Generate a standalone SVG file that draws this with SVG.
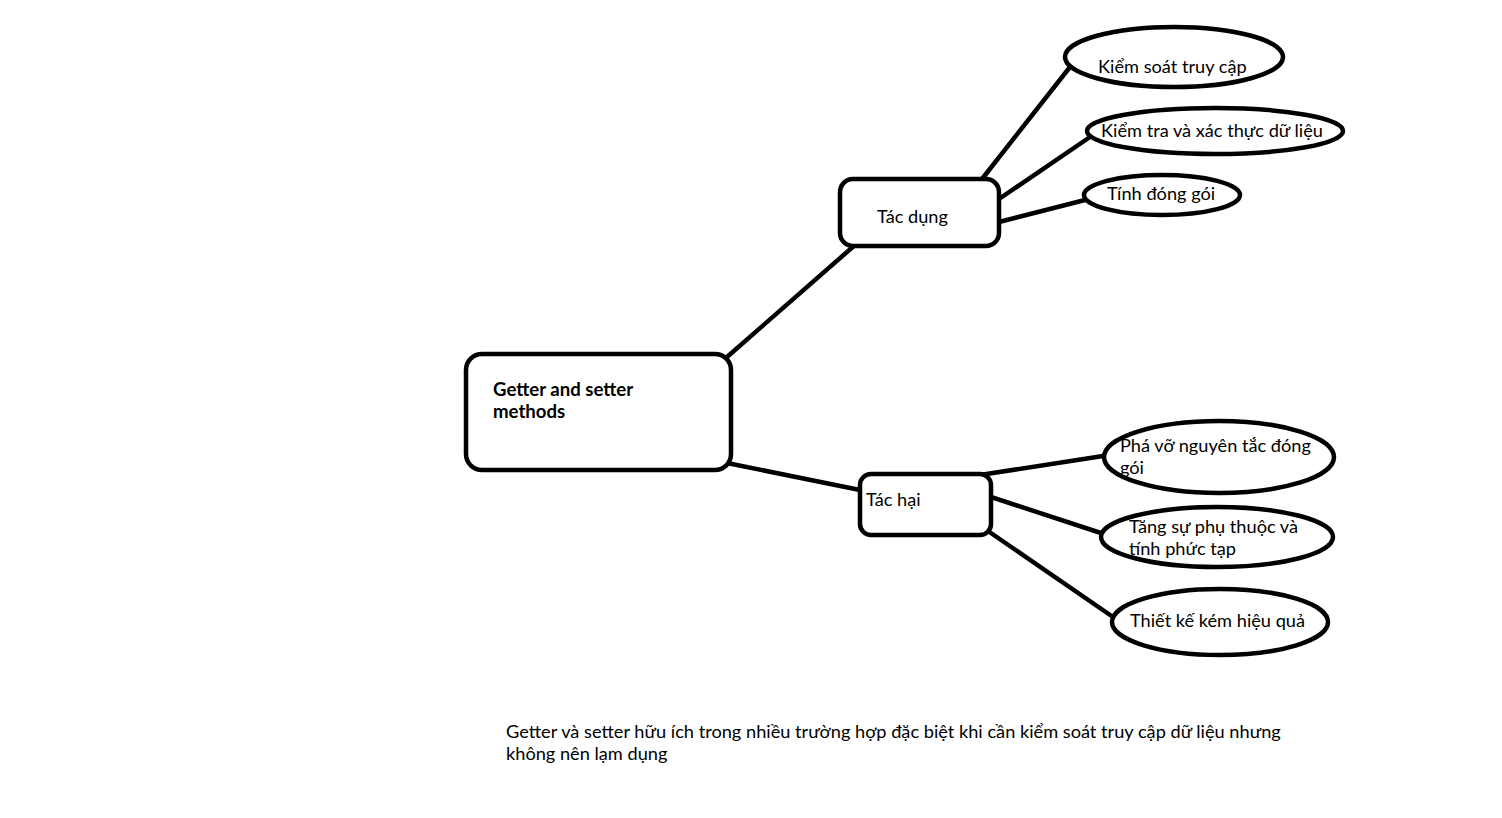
<svg xmlns="http://www.w3.org/2000/svg" width="1502" height="818" viewBox="0 0 1502 818">
<style>
.n{fill:#fff;stroke:#000;stroke-width:4.5}
.c line{stroke:#000;stroke-width:4.5;stroke-linecap:round}
text{font-family:Lato,"Noto Sans",sans-serif;font-size:18.2px;fill:#000}
.b{font-weight:bold;font-size:18.6px}
</style>
<rect width="1502" height="818" fill="#fff"/>
<g class="c" id="connectors">
<line x1="727" y1="357" x2="855" y2="245"/>
<line x1="727" y1="463" x2="860" y2="490"/>
<line x1="982" y1="179" x2="1070" y2="67"/>
<line x1="999" y1="199" x2="1090" y2="137"/>
<line x1="999" y1="222" x2="1085" y2="200"/>
<line x1="980" y1="475" x2="1103" y2="456"/>
<line x1="988" y1="496" x2="1104" y2="534"/>
<line x1="988" y1="531" x2="1113" y2="617"/>
</g>
<g id="main"><rect class="n" x="466" y="354" width="265" height="116" rx="16"/><text class="b" x="493" y="396">Getter and setter</text><text class="b" x="493" y="418">methods</text></g>
<g id="tacdung"><rect class="n" x="840" y="179" width="159" height="67" rx="13"/><text x="877" y="223">Tác dụng</text></g>
<g id="tachai"><rect class="n" x="860" y="474" width="131" height="61" rx="11"/><text x="866" y="506">Tác hại</text></g>
<g id="e1"><ellipse class="n" cx="1174" cy="57" rx="109" ry="30"/><text x="1098" y="73">Kiểm soát truy cập</text></g>
<g id="e2"><ellipse class="n" cx="1215" cy="131" rx="128" ry="23"/><text x="1101" y="137">Kiểm tra và xác thực dữ liệu</text></g>
<g id="e3"><ellipse class="n" cx="1162" cy="195" rx="78" ry="20"/><text x="1107" y="200">Tính đóng gói</text></g>
<g id="e4"><ellipse class="n" cx="1219" cy="457" rx="115" ry="36"/><text x="1120" y="452">Phá vỡ nguyên tắc đóng</text><text x="1120" y="474">gói</text></g>
<g id="e5"><ellipse class="n" cx="1217" cy="537" rx="116" ry="30"/><text x="1129" y="533">Tăng sự phụ thuộc và</text><text x="1129" y="555">tính phức tạp</text></g>
<g id="e6"><ellipse class="n" cx="1220" cy="622" rx="108" ry="33"/><text x="1130" y="627">Thiết kế kém hiệu quả</text></g>
<g id="note"><text x="506" y="738">Getter và setter hữu ích trong nhiều trường hợp đặc biệt khi cần kiểm soát truy cập dữ liệu nhưng</text><text x="506" y="760">không nên lạm dụng</text></g>
</svg>
